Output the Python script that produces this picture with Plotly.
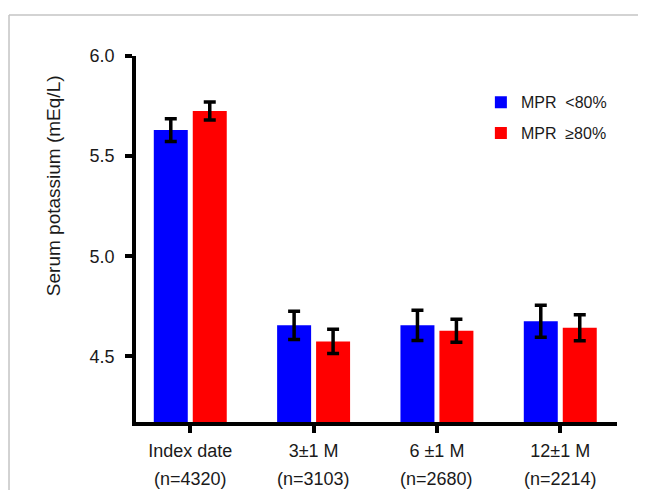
import plotly.graph_objects as go

categories = ["Index date", "3\u00b11 M", "6 \u00b11 M", "12\u00b11 M"]
n_labels = ["(n=4320)", "(n=3103)", "(n=2680)", "(n=2214)"]
mpr_low = [5.63, 4.655, 4.655, 4.676]
mpr_low_err = [0.057, 0.07, 0.075, 0.08]
mpr_high = [5.725, 4.575, 4.628, 4.643]
mpr_high_err = [0.045, 0.06, 0.057, 0.065]
y_ticks = [4.5, 5.0, 5.5, 6.0]

xpos = list(range(len(categories)))
FONT = "Liberation Sans, Arial, sans-serif"
TXT = "#1a1a1a"

fig = go.Figure()
fig.add_trace(go.Bar(
    x=xpos, y=mpr_low, name="MPR\u00a0\u00a0<80%", marker_color="#0000FF",
    marker_line_width=0, legendgroup="a",
    error_y=dict(type="data", array=mpr_low_err, color="black", thickness=3.5, width=6),
))
fig.add_trace(go.Bar(
    x=xpos, y=mpr_high, name="MPR\u00a0\u00a0\u226580%", marker_color="#FF0000",
    marker_line_width=0, legendgroup="b",
    error_y=dict(type="data", array=mpr_high_err, color="black", thickness=3.5, width=6),
))

annotations = []
for xi, lab in zip(xpos, n_labels):
    annotations.append(dict(x=xi, xref="x", y=-0.1546, yref="paper", text=lab,
                            showarrow=False, yanchor="middle", xanchor="center",
                            font=dict(size=18, color=TXT, family=FONT)))
annotations.append(dict(x=-0.17, xref="paper", y=0.645, yref="paper",
                        text="Serum potassium (mEq/L)", textangle=-90, showarrow=False,
                        xanchor="center", yanchor="middle",
                        font=dict(size=19, color=TXT, family=FONT)))

fig.update_layout(
    width=646, height=490,
    margin=dict(l=128, r=37, t=48, b=76),
    paper_bgcolor="white", plot_bgcolor="white",
    barmode="group", bargap=0.368, bargroupgap=0.128,
    font=dict(family=FONT, color=TXT),
    showlegend=True,
    legend=dict(x=0.717, y=0.92, xanchor="left", yanchor="top",
                font=dict(size=16, color=TXT, family=FONT),
                traceorder="grouped", tracegroupgap=7, bgcolor="rgba(0,0,0,0)"),
    xaxis=dict(range=[-0.44, 3.46], tickvals=xpos, ticktext=categories,
               showline=True, linecolor="black", linewidth=3.5,
               ticks="outside", ticklen=7, tickwidth=3.5, tickcolor="black",
               ticklabelstandoff=3,
               showgrid=False, zeroline=False,
               tickfont=dict(size=18, color=TXT, family=FONT)),
    yaxis=dict(range=[4.1725, 6.0], tickvals=y_ticks, ticktext=[f"{v:.1f}" for v in y_ticks],
               showline=True, linecolor="black", linewidth=3.5,
               ticks="outside", ticklen=7, tickwidth=3.5, tickcolor="black",
               ticklabelstandoff=7,
               showgrid=False, zeroline=False,
               tickfont=dict(size=18, color=TXT, family=FONT)),
    annotations=annotations,
    shapes=[
        dict(type="line", xref="paper", yref="paper", x0=-0.264, x1=1.1, y0=1.112, y1=1.112,
             line=dict(color="#c4c4c4", width=1.5)),
        dict(type="line", xref="paper", yref="paper", x0=-0.264, x1=-0.264, y0=1.112, y1=-0.25,
             line=dict(color="#c4c4c4", width=1.5)),
    ],
)

fig.write_html("out.html")
